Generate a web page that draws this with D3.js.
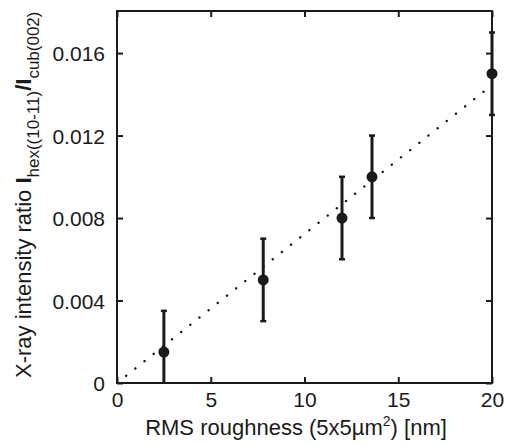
<!DOCTYPE html>
<html>
<head>
<meta charset="utf-8">
<script src="https://cdn.jsdelivr.net/npm/d3@7"></script>
<style>
  body { margin: 0; background: #fff; }
  text { font-family: "Liberation Sans", Arial, sans-serif; fill: #1a1a1a; }
</style>
</head>
<body>
<svg id="chart" width="505" height="446"></svg>
<script>
// Röntgen-Intensitätsverhältnis gegen RMS-Rauheit

const width = 505, height = 446;
const margin = { top: 11, right: 13, bottom: 63, left: 117 };
const innerWidth  = width  - margin.left - margin.right;
const innerHeight = height - margin.top  - margin.bottom;

// Messwerte
const roughness = [2.5, 7.8, 12, 13.6, 20];
const ratio     = [0.0015, 0.005, 0.008, 0.010, 0.015];
const ratioErr  = [0.002, 0.002, 0.002, 0.002, 0.002];

// lineare Anpassung (gepunktet)
const fitX = [0, 20];
const fitY = [0, 0.01445];

const xTicks = [0, 5, 10, 15, 20];
const yTicks = [0, 0.004, 0.008, 0.012, 0.016];

const svg = d3.select("#chart");
const g = svg.append("g")
  .attr("transform", `translate(${margin.left},${margin.top})`);

const x = d3.scaleLinear().domain([0, 20]).range([0, innerWidth]);
const y = d3.scaleLinear().domain([0, 0.01804]).range([innerHeight, 0]);

const fmtY = d => d === 0 ? "0" : d3.format(".3f")(d);

// nur unten abschneiden (Fehlerbalken unter 0)
svg.append("defs").append("clipPath").attr("id", "plotclip")
  .append("rect").attr("x", -20).attr("y", -20)
  .attr("width", innerWidth + 40).attr("height", innerHeight + 20);

// Achsen mit Ticks nach innen
const tickLen = 6;
const axB = g.append("g").attr("transform", `translate(0,${innerHeight})`)
  .call(d3.axisBottom(x).tickValues(xTicks).tickSize(-tickLen).tickPadding(9));
const axL = g.append("g")
  .call(d3.axisLeft(y).tickValues(yTicks).tickFormat(fmtY).tickSize(-tickLen).tickPadding(12));
const axT = g.append("g")
  .call(d3.axisTop(x).tickValues(xTicks).tickSize(-tickLen).tickFormat(""));
const axR = g.append("g").attr("transform", `translate(${innerWidth},0)`)
  .call(d3.axisRight(y).tickValues(yTicks).tickSize(-tickLen).tickFormat(""));

[axB, axL, axT, axR].forEach(a => {
  a.select(".domain").remove();
  a.selectAll(".tick line").attr("stroke", "#1a1a1a").attr("stroke-width", 2);
  a.selectAll("text").style("font-size", "21px").attr("fill", "#1a1a1a");
});
axL.selectAll("text").attr("dy", "0.36em");

const plot = g.append("g").attr("clip-path", "url(#plotclip)");

// gepunktete Fit-Linie
plot.append("line")
  .attr("x1", x(fitX[0])).attr("y1", y(fitY[0]))
  .attr("x2", x(fitX[1])).attr("y2", y(fitY[1]))
  .attr("stroke", "#1a1a1a")
  .attr("stroke-width", 2.4)
  .attr("stroke-linecap", "round")
  .attr("stroke-dasharray", "0.1 11.6");

const pts = roughness.map((r, i) => ({ r, v: ratio[i], e: ratioErr[i] }));

// Fehlerbalken
const eb = plot.selectAll(".err").data(pts).join("g").attr("class", "err");
eb.append("line")
  .attr("x1", d => x(d.r)).attr("x2", d => x(d.r))
  .attr("y1", d => y(d.v - d.e)).attr("y2", d => y(d.v + d.e))
  .attr("stroke", "#1a1a1a").attr("stroke-width", 3);
[-1, 1].forEach(s => {
  eb.append("line")
    .attr("x1", d => x(d.r) - 3).attr("x2", d => x(d.r) + 3)
    .attr("y1", d => y(d.v + s * d.e)).attr("y2", d => y(d.v + s * d.e))
    .attr("stroke", "#1a1a1a").attr("stroke-width", 2.5);
});

// Punkte
g.selectAll("circle").data(pts).join("circle")
  .attr("cx", d => x(d.r)).attr("cy", d => y(d.v))
  .attr("r", 5.5).attr("fill", "#1a1a1a");

// Rahmen
g.append("rect")
  .attr("width", innerWidth).attr("height", innerHeight)
  .attr("fill", "none").attr("stroke", "#1a1a1a").attr("stroke-width", 2);

// x-Beschriftung
const xl = svg.append("text")
  .attr("x", 296).attr("y", 435)
  .attr("text-anchor", "middle").style("font-size", "22px");
xl.append("tspan").text("RMS roughness (5x5µm");
xl.append("tspan").attr("dy", -9).style("font-size", "14px").text("2");
xl.append("tspan").attr("dy", 9).text(") [nm]");

// y-Beschriftung
const yl = svg.append("text")
  .attr("transform", "translate(31,378) rotate(-90)")
  .attr("text-anchor", "start").style("font-size", "22px");
yl.append("tspan").text("X-ray intensity ratio ");
yl.append("tspan").style("font-weight", "bold").text("I");
yl.append("tspan").attr("dy", 8).style("font-size", "17px").text("hex((10-11)");
yl.append("tspan").attr("dy", -8).style("font-weight", "bold").text("/I");
yl.append("tspan").attr("dy", 8).style("font-size", "17px").text("cub(002)");
</script>
</body>
</html>
